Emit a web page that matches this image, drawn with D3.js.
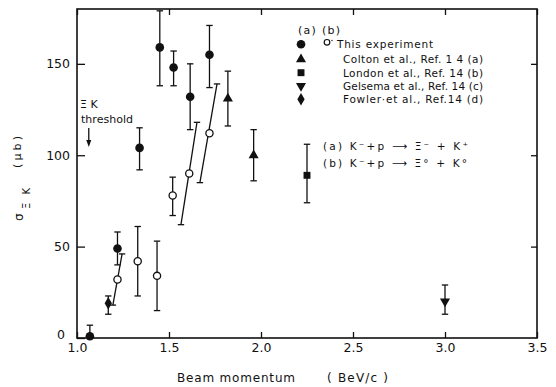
<!DOCTYPE html>
<html>
<head>
<meta charset="utf-8">
<script src="https://cdn.jsdelivr.net/npm/d3@7"></script>
<style>
  html, body { margin: 0; padding: 0; background: #fff; }
  svg { display: block; }
  text { font-family: "DejaVu Sans", "Liberation Sans", sans-serif; fill: #111; }
</style>
</head>
<body>
<svg id="chart" width="556" height="387"></svg>
<script>
// Xi-K production cross sections vs beam momentum

// Axis ticks
const xTicks = [1.0, 1.5, 2.0, 2.5, 3.0, 3.5];
const yTicks = [0, 50, 100, 150];

// This experiment, (a) K- p -> Xi- K+  (filled circles)
const aMomentum = [1.07, 1.22, 1.34, 1.45, 1.525, 1.615, 1.72];
const aSigma    = [1, 49, 104, 159, 148, 132, 155];
const aLow      = [0, 40, 92, 138, 138, 114, 137];
const aHigh     = [7, 58, 115, 179, 157, 150, 171];

// This experiment, (b) K- p -> Xi0 K0  (open circles); bars may slant across a momentum bin
const bMomentum = [1.22, 1.33, 1.435, 1.52, 1.61, 1.72];
const bSigma    = [32, 42, 34, 78, 90, 112];
const bLow      = [18, 23, 15, 67, 62, 85];
const bHigh     = [46, 61, 53, 88, 118, 139];
const bLowMom   = [1.195, 1.33, 1.435, 1.52, 1.565, 1.668];
const bHighMom  = [1.245, 1.33, 1.435, 1.52, 1.652, 1.761];

// Other measurements
const coltonMomentum = [1.82, 1.96];
const coltonSigma    = [131, 100];
const coltonLow      = [116, 86];
const coltonHigh     = [146, 114];

const londonMomentum = [2.25];
const londonSigma    = [89];
const londonLow      = [74];
const londonHigh     = [106];

const gelsemaMomentum = [3.0];
const gelsemaSigma    = [20];
const gelsemaLow      = [13];
const gelsemaHigh     = [29];

const fowlerMomentum = [1.17];
const fowlerSigma    = [19];
const fowlerLow      = [13];
const fowlerHigh     = [23];

const thresholdMomentum = 1.064;

const legendLabels = [
  "This experiment",
  "Colton et al., Ref. 1 4 (a)",
  "London et al., Ref. 14 (b)",
  "Gelsema  et al., Ref. 14 (c)",
  "Fowler·et al., Ref.14 (d)"
];
const reactionLabels = ["(a) K⁻+p ⟶ Ξ⁻ + K⁺", "(b) K⁻+p ⟶ Ξ° + K°"];

// ---- drawing ----
const svg = d3.select("#chart");
const ink = "#111";
const plotLeft = 77, plotRight = 537, plotTop = 9, plotBottom = 338;

const x = d3.scaleLinear().domain([1.0, 3.5]).range([plotLeft, plotRight]);
const y = d3.scaleLinear().domain([0, 180]).range([plotBottom, plotTop]);

// Frame
svg.append("rect")
  .attr("x", plotLeft).attr("y", plotTop)
  .attr("width", plotRight - plotLeft).attr("height", plotBottom - plotTop)
  .attr("fill", "none").attr("stroke", ink).attr("stroke-width", 1.6);

// Bottom axis: inward ticks
const xAxis = d3.axisBottom(x).tickValues(xTicks).tickSizeInner(-6).tickSizeOuter(0)
  .tickFormat(d3.format(".1f")).tickPadding(5);
const gx = svg.append("g").attr("transform", `translate(0,${plotBottom})`).call(xAxis);
gx.select(".domain").remove();
gx.selectAll(".tick line").attr("stroke", ink).attr("stroke-width", 1.3);
gx.selectAll(".tick text").attr("font-size", 12.5).attr("fill", ink).style("font-family", "DejaVu Sans");

// Top axis ticks
const gxt = svg.append("g").attr("transform", `translate(0,${plotTop})`)
  .call(d3.axisTop(x).tickValues(xTicks).tickSizeInner(-6).tickSizeOuter(0).tickFormat(""));
gxt.select(".domain").remove();
gxt.selectAll(".tick line").attr("stroke", ink).attr("stroke-width", 1.3);

// Left axis
const yAxis = d3.axisLeft(y).tickValues(yTicks).tickSizeInner(-8).tickSizeOuter(0).tickPadding(7);
const gy = svg.append("g").attr("transform", `translate(${plotLeft},0)`).call(yAxis);
gy.select(".domain").remove();
gy.selectAll(".tick line").attr("stroke", ink).attr("stroke-width", 1.3);
gy.selectAll(".tick text").attr("font-size", 12.5).attr("fill", ink).style("font-family", "DejaVu Sans");
// the zero label sits a little higher and further out, clear of "1.0"
gy.selectAll(".tick text").filter(d => d === 0).attr("x", -12).attr("dy", "0.05em");

// Right axis ticks
const gyr = svg.append("g").attr("transform", `translate(${plotRight},0)`)
  .call(d3.axisRight(y).tickValues(yTicks.filter(v => v > 0)).tickSizeInner(-6).tickSizeOuter(0).tickFormat(""));
gyr.select(".domain").remove();
gyr.selectAll(".tick line").attr("stroke", ink).attr("stroke-width", 1.3);

// Axis titles
svg.append("text")
  .attr("x", 177).attr("y", 382)
  .attr("font-size", 12).attr("textLength", 118).attr("lengthAdjust", "spacing")
  .text("Beam momentum");
svg.append("text")
  .attr("x", 327).attr("y", 382)
  .attr("font-size", 12).attr("textLength", 61).attr("lengthAdjust", "spacing")
  .text("( BeV/c )");

// Rotated y title: sigma with subscript Xi K, then units
const yTitle = svg.append("g").attr("transform", "translate(23,0) rotate(-90)");
yTitle.append("text").attr("x", -221).attr("y", 0).attr("font-size", 12).text("σ");
yTitle.append("text").attr("x", -209).attr("y", 7).attr("font-size", 10)
  .attr("textLength", 21).attr("lengthAdjust", "spacing").text("ΞK");
yTitle.append("text").attr("x", -168).attr("y", -2).attr("font-size", 11)
  .attr("textLength", 32).attr("lengthAdjust", "spacing").text("( μ b )");

// Threshold marker
svg.append("text").attr("x", 80).attr("y", 108).attr("font-size", 11).text("Ξ K");
svg.append("text").attr("x", 81).attr("y", 123).attr("font-size", 11)
  .attr("textLength", 52).attr("lengthAdjust", "spacing").text("threshold");
const tx = x(thresholdMomentum);
svg.append("line").attr("x1", tx).attr("x2", tx).attr("y1", 128).attr("y2", 143)
  .attr("stroke", ink).attr("stroke-width", 1.3);
svg.append("path").attr("d", `M${tx - 2.5},${140} L${tx + 2.5},${140} L${tx},${147} Z`).attr("fill", ink);

// Error bar helper: bar from (pLo, lo) to (pHi, hi), with caps
function errorBars(pLo, lo, pHi, hi) {
  const g = svg.append("g").attr("stroke", ink).attr("stroke-width", 1.3).attr("fill", "none");
  const cap = 3.2;
  pLo.forEach((_, i) => {
    const x1 = x(pLo[i]), y1 = y(lo[i]), x2 = x(pHi[i]), y2 = y(hi[i]);
    g.append("line").attr("x1", x1).attr("y1", y1).attr("x2", x2).attr("y2", y2);
    g.append("line").attr("x1", x2 - cap).attr("x2", x2 + cap).attr("y1", y2).attr("y2", y2);
    if (lo[i] > 0)
      g.append("line").attr("x1", x1 - cap).attr("x2", x1 + cap).attr("y1", y1).attr("y2", y1);
  });
}

errorBars(bLowMom, bLow, bHighMom, bHigh);
errorBars(aMomentum, aLow, aMomentum, aHigh);
errorBars(coltonMomentum, coltonLow, coltonMomentum, coltonHigh);
errorBars(londonMomentum, londonLow, londonMomentum, londonHigh);
errorBars(gelsemaMomentum, gelsemaLow, gelsemaMomentum, gelsemaHigh);
errorBars(fowlerMomentum, fowlerLow, fowlerMomentum, fowlerHigh);

// Marker shapes
const sym = {
  triangle: d3.symbol().type(d3.symbolTriangle).size(44),
  square: d3.symbol().type(d3.symbolSquare).size(48),
  diamond: d3.symbol().type(d3.symbolDiamond).size(46),
  circle: d3.symbol().type(d3.symbolCircle).size(58)
};

function markers(p, s, shape, rotate = 0) {
  svg.append("g").selectAll("path").data(p).join("path")
    .attr("d", sym[shape]())
    .attr("transform", (d, i) => `translate(${x(d)},${y(s[i])}) rotate(${rotate})`)
    .attr("fill", ink);
}

// open circles
svg.append("g").selectAll("circle").data(bMomentum).join("circle")
  .attr("cx", d => x(d)).attr("cy", (d, i) => y(bSigma[i])).attr("r", 3.6)
  .attr("fill", "#fff").attr("stroke", ink).attr("stroke-width", 1.3);

markers(aMomentum, aSigma, "circle");
markers(coltonMomentum, coltonSigma, "triangle");
markers(londonMomentum, londonSigma, "square");
markers(gelsemaMomentum, gelsemaSigma, "triangle", 180);
markers(fowlerMomentum, fowlerSigma, "diamond");

// Legend
svg.append("text").attr("x", 298).attr("y", 34).attr("font-size", 11)
  .attr("textLength", 42).attr("lengthAdjust", "spacing").text("(a) (b)");

const legendRowY = [44.3, 59.3, 72.7, 86, 99.3];
const legendShapes = [["circle", 0], ["triangle", 0], ["square", 0], ["triangle", 180], ["diamond", 0]];
const legendTextX = [337, 343, 343, 343, 343];
const legendTextLen = [96, 140, 140, 140, 140];
const lg = svg.append("g");
legendLabels.forEach((label, i) => {
  const [shape, rot] = legendShapes[i];
  lg.append("path").attr("d", sym[shape]())
    .attr("transform", `translate(301,${legendRowY[i]}) rotate(${rot})`).attr("fill", ink);
  lg.append("text").attr("x", legendTextX[i]).attr("y", legendRowY[i] + 4)
    .attr("font-size", 10.5).attr("textLength", legendTextLen[i]).attr("lengthAdjust", "spacing")
    .text(label);
});
lg.append("circle").attr("cx", 327).attr("cy", 42.3).attr("r", 2.8)
  .attr("fill", "#fff").attr("stroke", ink).attr("stroke-width", 1.2);
lg.append("circle").attr("cx", 332).attr("cy", 40.5).attr("r", 0.7).attr("fill", ink);

const reactionY = [145.7, 163.3];
const reactionLen = [145, 144];
reactionLabels.forEach((label, i) => {
  lg.append("text").attr("x", 323).attr("y", reactionY[i] + 4)
    .attr("font-size", 10.5).attr("textLength", reactionLen[i]).attr("lengthAdjust", "spacing")
    .text(label);
});
</script>
</body>
</html>
